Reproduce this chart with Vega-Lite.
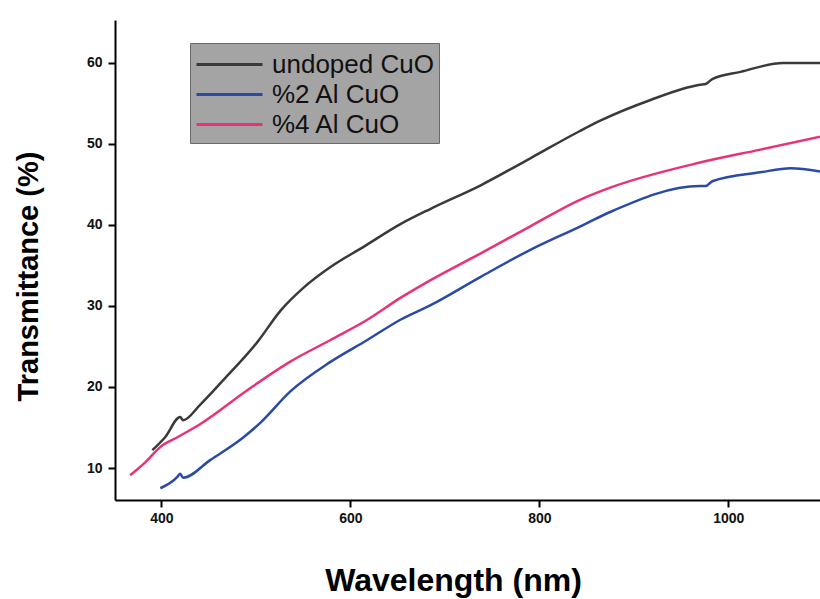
{
  "$schema": "https://vega.github.io/schema/vega-lite/v6.json",
  "width": 705,
  "height": 480,
  "autosize": {"type": "none"},
  "padding": {"left": 115, "top": 20, "right": 0, "bottom": 99},
  "background": "white",
  "config": {
    "view": {"stroke": null},
    "font": "Liberation Sans"
  },
  "data": {
    "values": [
      {"s": "undoped CuO", "wl": 390.5, "t": 12.2},
      {"s": "undoped CuO", "wl": 404, "t": 13.8},
      {"s": "undoped CuO", "wl": 420, "t": 16.3},
      {"s": "undoped CuO", "wl": 423, "t": 15.9},
      {"s": "undoped CuO", "wl": 441, "t": 17.8},
      {"s": "undoped CuO", "wl": 466, "t": 20.9},
      {"s": "undoped CuO", "wl": 502, "t": 25.6},
      {"s": "undoped CuO", "wl": 526, "t": 29.4},
      {"s": "undoped CuO", "wl": 550, "t": 32.2},
      {"s": "undoped CuO", "wl": 579, "t": 34.8},
      {"s": "undoped CuO", "wl": 614, "t": 37.3},
      {"s": "undoped CuO", "wl": 653, "t": 40.1},
      {"s": "undoped CuO", "wl": 685, "t": 42.0},
      {"s": "undoped CuO", "wl": 738, "t": 44.9},
      {"s": "undoped CuO", "wl": 790, "t": 48.2},
      {"s": "undoped CuO", "wl": 843, "t": 51.6},
      {"s": "undoped CuO", "wl": 865, "t": 52.9},
      {"s": "undoped CuO", "wl": 917, "t": 55.4},
      {"s": "undoped CuO", "wl": 970, "t": 57.3},
      {"s": "undoped CuO", "wl": 976, "t": 57.4},
      {"s": "undoped CuO", "wl": 983, "t": 58.0},
      {"s": "undoped CuO", "wl": 1013, "t": 58.9},
      {"s": "undoped CuO", "wl": 1058, "t": 60.0},
      {"s": "undoped CuO", "wl": 1097, "t": 60.0},
      {"s": "%2 Al CuO", "wl": 399, "t": 7.5},
      {"s": "%2 Al CuO", "wl": 417, "t": 8.9},
      {"s": "%2 Al CuO", "wl": 420, "t": 9.3},
      {"s": "%2 Al CuO", "wl": 423, "t": 8.8},
      {"s": "%2 Al CuO", "wl": 452, "t": 11.0},
      {"s": "%2 Al CuO", "wl": 487, "t": 13.8},
      {"s": "%2 Al CuO", "wl": 505, "t": 15.6},
      {"s": "%2 Al CuO", "wl": 536, "t": 19.4},
      {"s": "%2 Al CuO", "wl": 579, "t": 23.1},
      {"s": "%2 Al CuO", "wl": 618, "t": 25.8},
      {"s": "%2 Al CuO", "wl": 653, "t": 28.3},
      {"s": "%2 Al CuO", "wl": 685, "t": 30.1},
      {"s": "%2 Al CuO", "wl": 738, "t": 33.6},
      {"s": "%2 Al CuO", "wl": 790, "t": 36.9},
      {"s": "%2 Al CuO", "wl": 843, "t": 39.8},
      {"s": "%2 Al CuO", "wl": 875, "t": 41.6},
      {"s": "%2 Al CuO", "wl": 970, "t": 44.8},
      {"s": "%2 Al CuO", "wl": 976, "t": 44.8},
      {"s": "%2 Al CuO", "wl": 983, "t": 45.4},
      {"s": "%2 Al CuO", "wl": 1034, "t": 46.5},
      {"s": "%2 Al CuO", "wl": 1066, "t": 47.0},
      {"s": "%2 Al CuO", "wl": 1097, "t": 46.6},
      {"s": "%4 Al CuO", "wl": 367, "t": 9.1},
      {"s": "%4 Al CuO", "wl": 383, "t": 10.7},
      {"s": "%4 Al CuO", "wl": 399, "t": 12.6},
      {"s": "%4 Al CuO", "wl": 417, "t": 13.8},
      {"s": "%4 Al CuO", "wl": 441, "t": 15.4},
      {"s": "%4 Al CuO", "wl": 491, "t": 19.6},
      {"s": "%4 Al CuO", "wl": 536, "t": 23.1},
      {"s": "%4 Al CuO", "wl": 579, "t": 25.8},
      {"s": "%4 Al CuO", "wl": 618, "t": 28.3},
      {"s": "%4 Al CuO", "wl": 653, "t": 31.0},
      {"s": "%4 Al CuO", "wl": 685, "t": 33.2},
      {"s": "%4 Al CuO", "wl": 738, "t": 36.5},
      {"s": "%4 Al CuO", "wl": 790, "t": 39.8},
      {"s": "%4 Al CuO", "wl": 843, "t": 43.1},
      {"s": "%4 Al CuO", "wl": 875, "t": 44.6},
      {"s": "%4 Al CuO", "wl": 970, "t": 47.7},
      {"s": "%4 Al CuO", "wl": 1034, "t": 49.3},
      {"s": "%4 Al CuO", "wl": 1097, "t": 50.9}
    ]
  },
  "mark": {"type": "line", "strokeWidth": 2.5, "clip": true, "interpolate": "monotone"},
  "encoding": {
    "x": {
      "field": "wl", "type": "quantitative",
      "scale": {"domain": [351, 1097], "nice": false, "zero": false},
      "axis": {
        "title": "Wavelength (nm)",
        "values": [400, 600, 800, 1000],
        "format": "d",
        "grid": false,
        "domainColor": "#000", "domainWidth": 2,
        "tickColor": "#000", "tickWidth": 2, "tickSize": 7,
        "labelFont": "Liberation Sans", "labelFontWeight": "bold", "labelFontSize": 14, "labelColor": "#111",
        "labelPadding": 4,
        "titleFont": "Liberation Sans", "titleFontWeight": "bold", "titleFontSize": 32, "titleColor": "#000",
        "titleX": 338, "titleY": 90, "titleBaseline": "alphabetic", "titleAlign": "center"
      }
    },
    "y": {
      "field": "t", "type": "quantitative",
      "scale": {"domain": [6.05, 65.3], "nice": false, "zero": false},
      "axis": {
        "title": "Transmittance (%)",
        "values": [10, 20, 30, 40, 50, 60],
        "grid": false,
        "domainColor": "#000", "domainWidth": 2,
        "tickColor": "#000", "tickWidth": 2, "tickSize": 7,
        "labelFont": "Liberation Sans", "labelFontWeight": "bold", "labelFontSize": 14, "labelColor": "#111",
        "labelPadding": 6,
        "titleFont": "Liberation Sans", "titleFontWeight": "bold", "titleFontSize": 29, "titleColor": "#000",
        "titleAngle": -90, "titleX": -78, "titleY": 256, "titleBaseline": "alphabetic", "titleAlign": "center"
      }
    },
    "color": {
      "field": "s", "type": "nominal",
      "scale": {
        "domain": ["undoped CuO", "%2 Al CuO", "%4 Al CuO"],
        "range": ["#3a3a3a", "#2a4aa8", "#e8337a"]
      },
      "legend": {
        "title": null,
        "orient": "none",
        "legendX": 75,
        "legendY": 23,
        "fillColor": "#a4a4a4",
        "strokeColor": "#6a6a6a",
        "padding": 5,
        "symbolType": "M-2.2,0H2.2",
        "symbolSize": 900,
        "symbolStrokeWidth": 3,
        "symbolOffset": 18,
        "labelFont": "Liberation Sans",
        "labelFontSize": 26,
        "labelLimit": 400,
        "labelColor": "#111",
        "labelOffset": 26,
        "rowPadding": 0
      }
    }
  }
}
